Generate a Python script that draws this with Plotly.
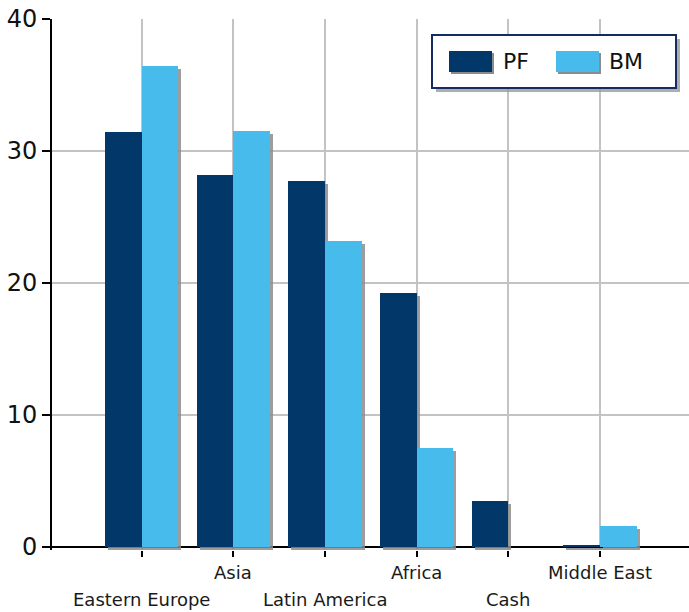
import plotly.graph_objects as go

# Regional allocation, portfolio (PF) vs benchmark (BM), in percent
categories = ["Eastern Europe", "Asia", "Latin America", "Africa", "Cash", "Middle East"]
pf_values = [31.4, 28.2, 27.7, 19.2, 3.5, 0.1]
bm_values = [36.4, 31.5, 23.2, 7.5, 0.0, 1.6]
y_ticks = [0, 10, 20, 30, 40]

PF_COLOR = "#02376A"
BM_COLOR = "#47BBEB"
SHADOW = "#8C8C8C"
GRID = "#C3C3C3"
FONT = "DejaVu Sans"

# plot-area geometry in pixels
W_FIG, H_FIG = 689, 612
L, R, T, B = 52, 689, 19, 550
W, H = R - L, B - T
X_RANGE = [-0.98, 5.97]
Y_RANGE = [-0.25, 40]

def px(x):
    return (x - L) / W

def py(y):
    return (B - y) / H

# shadow offset, converted from pixels into data units
dx = 3 * (X_RANGE[1] - X_RANGE[0]) / W
dy = 3 * (Y_RANGE[1] - Y_RANGE[0]) / H

idx = list(range(len(categories)))
bar_w = 0.4

fig = go.Figure()
# drop shadows
for vals, off in ((pf_values, -bar_w), (bm_values, 0.0)):
    fig.add_trace(go.Bar(
        x=idx, y=vals, base=[-dy] * len(vals), width=bar_w, offset=off + dx,
        marker=dict(color=SHADOW, line=dict(width=0)), opacity=0.85,
        showlegend=False, hoverinfo="skip"))
# bars
fig.add_trace(go.Bar(x=idx, y=pf_values, width=bar_w, offset=-bar_w, name="PF",
                     marker=dict(color=PF_COLOR, line=dict(width=0)), showlegend=False))
fig.add_trace(go.Bar(x=idx, y=bm_values, width=bar_w, offset=0.0, name="BM",
                     marker=dict(color=BM_COLOR, line=dict(width=0)), showlegend=False))

# staggered category labels
for i, name in enumerate(categories):
    ypix = 572 if i % 2 == 1 else 599
    fig.add_annotation(x=i, xref="x", y=py(ypix), yref="paper", text=name,
                       showarrow=False, xanchor="center", yanchor="middle",
                       font=dict(family=FONT, size=18, color="#1A1A1A"))

# legend box with shadow
shapes = [
    dict(type="rect", xref="paper", yref="paper", x0=px(436), x1=px(680), y0=py(92), y1=py(39),
         fillcolor="#9A9A9A", line=dict(width=0), opacity=0.8),
    dict(type="rect", xref="paper", yref="paper", x0=px(432), x1=px(676), y0=py(88), y1=py(35),
         fillcolor="white", line=dict(color="#142C62", width=2)),
]
for (x0, x1), color, label, tx in (((449, 492), PF_COLOR, "PF", 501),
                                   ((556, 599), BM_COLOR, "BM", 607)):
    shapes.append(dict(type="rect", xref="paper", yref="paper", x0=px(x0 + 2), x1=px(x1 + 2),
                       y0=py(74), y1=py(53), fillcolor=SHADOW, line=dict(width=0)))
    shapes.append(dict(type="rect", xref="paper", yref="paper", x0=px(x0), x1=px(x1),
                       y0=py(72), y1=py(51), fillcolor=color, line=dict(width=0)))
    fig.add_annotation(x=px(tx), xref="paper", y=py(61.5), yref="paper", text=label,
                       showarrow=False, xanchor="left", yanchor="middle",
                       font=dict(family=FONT, size=22, color="#111111"))

fig.update_layout(
    width=W_FIG, height=H_FIG,
    margin=dict(l=L, r=W_FIG - R, t=T, b=H_FIG - B, pad=0),
    paper_bgcolor="white", plot_bgcolor="white",
    barmode="overlay", bargap=0,
    shapes=shapes,
    font=dict(family=FONT, color="#111111"),
    xaxis=dict(range=X_RANGE, tickvals=idx, showticklabels=False,
               showgrid=True, gridcolor=GRID, gridwidth=2,
               showline=False, zeroline=False,
               ticks="outside", ticklen=6, tickwidth=2, tickcolor="black"),
    yaxis=dict(range=Y_RANGE, tickvals=y_ticks, showgrid=True, gridcolor=GRID, gridwidth=2,
               zeroline=True, zerolinecolor="black", zerolinewidth=2,
               showline=True, linecolor="black", linewidth=2,
               ticks="outside", ticklen=8, tickwidth=2, tickcolor="black",
               tickfont=dict(family=FONT, size=24, color="#111111"), layer="above traces"),
)

fig.write_html("out.html")
